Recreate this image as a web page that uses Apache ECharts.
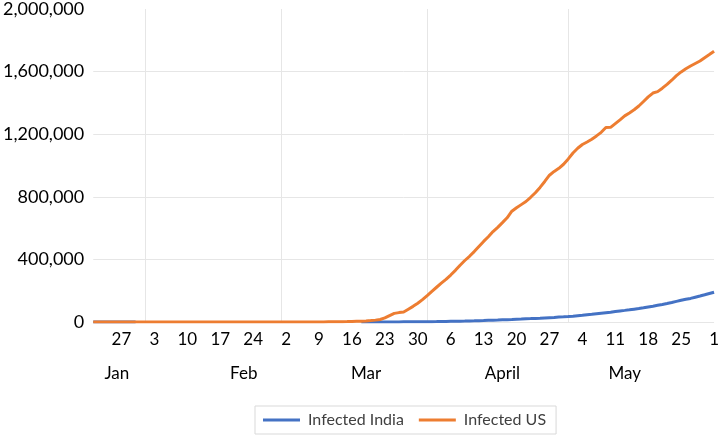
<!DOCTYPE html>
<html>
<head>
<meta charset="utf-8">
<script src="https://cdn.jsdelivr.net/npm/echarts@6/dist/echarts.min.js"></script>
<style>
html,body{margin:0;padding:0;background:#fff;}
#c{width:722px;height:439px;}
</style>
</head>
<body>
<div id="c"></div>
<script>
// ---- data ----
var startDate = '2020-01-21';
var dayCount = 133; // Jan 21 .. Jun 1

var usJan = [1,1,1,2,2,5,5,5,5,5,6];
var usFeb = [7,8,8,11,11,11,11,12,12,12,12,12,13,13,13,13,13,13,13,15,15,15,35,35,53,53,57,60,62];
var usMar = [68,74,98,118,149,217,262,402,518,583,959,1281,1663,2179,2726,3499,4632,
             5000,6500,9000,12000,16000,26000,41000,55000,60000,64000,82000,100000,120000,143000];
var usApr = [169000,196000,222000,248000,272000,300000,330000,363000,393000,420000,450000,483000,515000,545000,578000,
             605000,635000,666000,708000,730000,750000,770000,797000,826000,860000,898000,938000,962000,982000,1008000];
var usMay = [1042000,1080000,1110000,1134000,1150000,1168000,1189000,1212000,1243000,1244000,1268000,1292000,1317000,
             1336000,1356000,1380000,1409000,1438000,1463000,1472000,1494000,1518000,1545000,1574000,1598000,1618000,
             1636000,1652000,1668000,1689000,1709000];
var usJun = [1730000];

var indiaJan = [0,0,0,0,0,0,0,0,0,1,null];
var indiaFeb = [null,null,null,null,null,null,null,null,null,null,null,null,null,null,null,null,null,null,null,null,
                null,null,null,null,null,null,null,null,null];
var indiaMar = [null,null,null,null,null,null,null,null,null,null,null,null,null,null,null,null,null,
                151,173,223,283,360,468,519,606,694,834,918,1024,1251,1397];
var indiaApr = [1834,2069,2547,3072,3577,4281,4789,5274,5865,6761,7529,8447,9352,10815,11933,12759,13835,14792,16116,
                17656,18985,20471,21700,23077,24530,26283,27890,29451,31324,33062];
var indiaMay = [35043,37336,39980,42533,46433,49391,52952,56342,59662,62939,67152,70756,74281,78003,81970,85940,90927,
                96169,101139,106750,112359,118447,124794,131868,138845,145380,150793,158333,165799,173763,182143];
var indiaJun = [190535];

var weekTicks = ['2020-01-27','2020-02-03','2020-02-10','2020-02-17','2020-02-24','2020-03-02','2020-03-09',
                 '2020-03-16','2020-03-23','2020-03-30','2020-04-06','2020-04-13','2020-04-20','2020-04-27',
                 '2020-05-04','2020-05-11','2020-05-18','2020-05-25','2020-06-01'];
var monthStarts = ['2020-02-01','2020-03-01','2020-04-01','2020-05-01'];
var monthNames = ['Jan','Feb','Mar','April','May'];
var monthLabelDates = ['2020-01-26','2020-02-22','2020-03-19','2020-04-17','2020-05-13'];

var yTicks = {min: 0, max: 2000000, interval: 400000};
var seriesNames = ['Infected India', 'Infected US'];

// ---- build ----
function pad(n){return n < 10 ? '0' + n : '' + n;}
var dates = [];
(function(){
  var p = startDate.split('-');
  var t = Date.UTC(+p[0], +p[1]-1, +p[2]);
  for (var i = 0; i < dayCount; i++) {
    var d = new Date(t + i*86400000);
    dates.push(d.getUTCFullYear() + '-' + pad(d.getUTCMonth()+1) + '-' + pad(d.getUTCDate()));
  }
})();
var us = [].concat(usJan, usFeb, usMar, usApr, usMay, usJun);
var india = [].concat(indiaJan, indiaFeb, indiaMar, indiaApr, indiaMay, indiaJun);

var FONT = 'Lato, "Open Sans", sans-serif';
var chart = echarts.init(document.getElementById('c'), null, {renderer: 'canvas'});
chart.setOption({
  animation: false,
  backgroundColor: '#ffffff',
  grid: {left: 91, right: 5, top: 9, bottom: 117, containLabel: false},
  legend: {
    data: seriesNames,
    top: 406,
    left: 255,
    icon: 'rect',
    itemWidth: 37,
    itemHeight: 3,
    itemGap: 15,
    padding: [6, 10, 6, 8],
    borderColor: '#d9d9d9',
    borderWidth: 1,
    textStyle: {fontFamily: FONT, fontSize: 16, color: '#404040', padding: [0, 0, 0, 3]}
  },
  xAxis: [{
    type: 'category',
    data: dates,
    boundaryGap: false,
    axisLine: {show: false},
    axisTick: {show: false},
    axisLabel: {
      interval: function(i, v){ return weekTicks.indexOf(dates[i]) >= 0; },
      formatter: function(v){ return String(+v.split('-')[2]); },
      fontFamily: FONT, fontSize: 17, color: '#000', margin: 9
    },
    splitLine: {
      show: true,
      interval: function(i, v){ return monthStarts.indexOf(dates[i]) >= 0; },
      lineStyle: {color: '#e6e6e6', width: 1}
    }
  }, {
    type: 'category',
    data: dates,
    boundaryGap: false,
    position: 'bottom',
    offset: 34,
    axisLine: {show: false},
    axisTick: {show: false},
    splitLine: {show: false},
    axisLabel: {
      interval: function(i, v){ return monthLabelDates.indexOf(dates[i]) >= 0; },
      formatter: function(v){ var k = monthLabelDates.indexOf(v); return k >= 0 ? monthNames[k] : ''; },
      fontFamily: FONT, fontSize: 17, color: '#000', margin: 9
    }
  }],
  yAxis: {
    type: 'value',
    min: yTicks.min, max: yTicks.max, interval: yTicks.interval,
    axisLine: {show: false},
    axisTick: {show: false},
    axisLabel: {
      formatter: function(v){ return v.toLocaleString('en-US'); },
      fontFamily: FONT, fontSize: 18, color: '#000', margin: 9
    },
    splitLine: {lineStyle: {color: ['#e6e6e6','#e6e6e6','#e6e6e6','#e6e6e6','#e6e6e6','rgba(0,0,0,0)'], width: 1}}
  },
  series: [{
    name: seriesNames[0], type: 'line', data: india, xAxisIndex: 0,
    showSymbol: false, symbol: 'none', connectNulls: false,
    lineStyle: {color: '#4472C4', width: 3}, itemStyle: {color: '#4472C4'}
  }, {
    name: seriesNames[1], type: 'line', data: us, xAxisIndex: 0,
    showSymbol: false, symbol: 'none',
    lineStyle: {color: '#ED7D31', width: 3}, itemStyle: {color: '#ED7D31'}
  }]
});
</script>
</body>
</html>
